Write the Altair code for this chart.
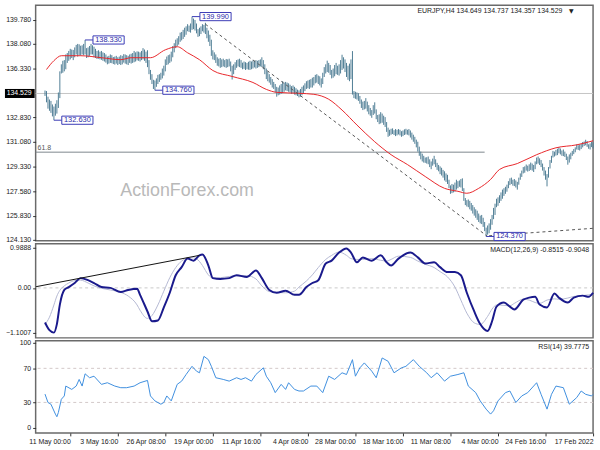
import altair as alt
import pandas as pd

FONT = "Liberation Sans"

# ---------------- price bars (index 0 = 17 Feb 2022 08:00, 4H bars) ----------------
HIGH = [
    131.05, 131.10, 130.98, 130.92, 131.15, 131.24, 131.12, 131.08, 130.96, 130.90,
    130.85, 130.92, 130.70, 130.58, 130.45, 130.32, 130.20, 130.05, 130.25, 130.40,
    130.55, 130.48, 130.62, 130.70, 130.60, 130.52, 130.40, 130.45, 130.10, 129.80,
    129.30, 128.80, 129.05, 129.30, 129.55, 129.80, 129.92, 130.05, 129.98, 129.70,
    129.45, 129.55, 129.62, 129.50, 129.40, 129.48, 129.35, 129.30, 129.05, 128.85,
    128.55, 128.25, 128.35, 128.45, 128.40, 128.55, 128.50, 128.30, 128.05, 127.90,
    127.80, 127.70, 127.50, 127.30, 127.15, 127.05, 126.70, 126.40, 125.90, 125.60,
    125.30, 125.15, 125.00, 125.40, 125.70, 125.90, 125.85, 126.00, 126.20, 126.30,
    126.45, 126.60, 126.75, 126.90, 127.00, 126.95, 127.10, 127.80, 128.50, 128.45,
    128.35, 128.30, 128.40, 128.20, 128.05, 128.10, 128.00, 128.40, 128.75, 128.85,
    129.00, 129.10, 129.25, 129.35, 129.45, 129.60, 129.85, 130.10, 129.90, 129.70,
    129.85, 130.05, 130.00, 129.98, 130.10, 130.25, 130.40, 130.75, 131.10, 131.25,
    131.45, 131.60, 131.75, 131.90, 132.00, 131.95, 132.02, 131.98, 131.90, 131.85,
    131.95, 132.00, 131.95, 132.00, 131.92, 132.05, 132.02, 131.95, 132.10, 132.50,
    132.85, 132.95, 133.10, 133.20, 133.05, 133.00, 133.40, 133.90, 133.70, 133.35,
    133.50, 133.70, 133.95, 134.20, 134.00, 133.95, 134.10, 134.35, 134.55, 134.60,
    134.65, 134.70, 137.54, 136.95, 136.65, 136.50, 136.70, 136.95, 137.10, 137.28,
    136.90, 136.60, 136.50, 136.70, 136.55, 136.30, 136.20, 136.55, 136.70, 136.86,
    136.60, 136.40, 136.00, 135.60, 135.75, 135.80, 135.90, 135.85, 135.70, 135.65,
    135.55, 135.50, 135.45, 135.40, 135.25, 135.10, 135.00, 134.85, 134.75, 134.80,
    134.90, 135.00, 135.10, 135.05, 135.15, 135.25, 135.30, 135.35, 135.30, 135.40,
    135.20, 135.10, 134.95, 135.00, 135.20, 135.35, 135.55, 135.70, 135.90, 136.10,
    136.30, 136.60, 136.90, 137.10, 136.95, 136.90, 136.85, 136.90, 136.85, 136.88,
    136.80, 136.85, 136.78, 136.70, 136.75, 136.80, 136.72, 136.90, 137.00, 136.95,
    136.90, 136.75, 136.60, 136.50, 136.80, 137.00, 136.95, 136.98, 136.90, 137.00,
    136.95, 137.05, 137.00, 137.10, 137.30, 137.45, 137.60, 138.35, 138.70, 139.00,
    139.20, 139.55, 139.40, 139.45, 139.30, 139.20, 139.10, 139.50, 139.75, 139.85,
    139.99, 139.50, 139.35, 139.45, 139.30, 139.20, 139.05, 138.90, 138.85, 138.60,
    138.45, 138.35, 138.10, 137.90, 137.50, 137.30, 137.25, 137.15, 136.95, 136.50,
    136.30, 136.00, 135.90, 135.85, 135.60, 135.45, 135.50, 135.90, 136.20, 136.90,
    137.60, 137.50, 137.65, 137.75, 137.55, 137.45, 137.50, 137.52, 137.45, 137.55,
    137.40, 137.35, 137.30, 137.20, 137.25, 137.30, 137.32, 137.20, 137.25, 137.15,
    137.10, 137.20, 137.15, 137.12, 137.25, 137.30, 137.20, 137.15, 137.30, 137.40,
    137.45, 137.55, 137.50, 137.60, 137.55, 137.70, 137.85, 137.95, 138.05, 137.90,
    137.80, 137.75, 138.33, 138.05, 137.95, 137.92, 138.02, 138.05, 137.98, 137.80,
    137.62, 137.65, 137.70, 137.55, 137.40, 137.30, 136.90, 136.85, 136.60, 136.10,
    134.60, 134.05, 133.80, 133.60, 133.75, 134.00, 134.10, 134.30, 134.70, 134.737,
]
LOW = [
    130.62, 130.72, 130.55, 130.60, 130.74, 130.85, 130.80, 130.70, 130.58, 130.48,
    130.52, 130.55, 130.35, 130.22, 130.10, 129.85, 129.62, 129.47, 129.80, 130.02,
    130.08, 130.10, 130.20, 130.28, 130.15, 130.12, 130.05, 129.98, 129.60, 129.20,
    128.55, 127.93, 128.40, 128.70, 129.05, 129.30, 129.45, 129.55, 129.50, 129.15,
    128.95, 129.05, 129.10, 129.02, 128.98, 129.05, 128.90, 128.85, 128.60, 128.40,
    128.05, 127.70, 127.85, 127.95, 127.98, 128.10, 128.02, 127.80, 127.55, 127.40,
    127.25, 127.05, 126.90, 126.75, 126.55, 126.45, 125.90, 125.60, 125.20, 124.85,
    124.60, 124.50, 124.37, 124.75, 125.05, 125.25, 125.30, 125.40, 125.55, 125.70,
    125.85, 126.00, 126.20, 126.30, 126.45, 126.50, 126.60, 126.90, 127.60, 127.85,
    127.90, 127.80, 127.70, 127.55, 127.50, 127.45, 127.40, 127.80, 128.10, 128.25,
    128.35, 128.55, 128.70, 128.80, 129.00, 129.10, 129.30, 129.50, 129.40, 129.15,
    129.30, 129.50, 129.55, 129.60, 129.62, 129.70, 129.85, 130.10, 130.40, 130.70,
    130.95, 131.10, 131.25, 131.40, 131.55, 131.60, 131.62, 131.58, 131.50, 131.45,
    131.55, 131.62, 131.55, 131.50, 131.58, 131.65, 131.60, 131.52, 131.45, 131.80,
    132.15, 132.30, 132.45, 132.40, 132.35, 132.50, 132.70, 133.10, 133.00, 132.80,
    132.95, 133.05, 133.25, 133.45, 133.40, 133.35, 133.50, 133.80, 134.00, 134.10,
    134.15, 134.20, 134.45, 135.55, 135.40, 135.50, 135.70, 136.05, 136.30, 136.20,
    135.95, 135.80, 135.85, 135.90, 135.75, 135.65, 135.60, 135.85, 136.00, 136.05,
    135.95, 135.70, 135.20, 134.95, 135.10, 135.20, 135.30, 135.25, 135.10, 134.95,
    134.95, 134.85, 134.90, 134.85, 134.70, 134.55, 134.40, 134.30, 134.25, 134.35,
    134.40, 134.45, 134.55, 134.50, 134.60, 134.65, 134.70, 134.75, 134.65, 134.55,
    134.50, 134.45, 134.40, 134.30, 134.60, 134.85, 134.95, 135.15, 135.30, 135.40,
    135.55, 135.90, 136.25, 136.40, 136.45, 136.40, 136.35, 136.30, 136.38, 136.30,
    136.25, 136.20, 136.22, 136.25, 136.20, 136.28, 136.25, 136.35, 136.40, 136.45,
    136.35, 136.20, 135.90, 135.52, 136.10, 136.45, 136.40, 136.35, 136.40, 136.45,
    136.40, 136.35, 136.45, 136.50, 136.70, 136.90, 136.95, 137.20, 137.90, 138.20,
    138.45, 138.75, 138.85, 138.95, 138.75, 138.60, 138.55, 138.80, 139.00, 139.10,
    139.05, 138.85, 138.90, 138.95, 138.70, 138.55, 138.40, 138.30, 138.20, 138.00,
    137.90, 137.75, 137.45, 137.10, 136.80, 136.70, 136.60, 136.55, 136.10, 135.80,
    135.60, 135.50, 135.35, 135.20, 135.00, 134.76, 134.85, 135.20, 135.50, 135.90,
    136.40, 136.70, 136.85, 136.95, 136.90, 136.80, 136.85, 136.88, 136.80, 136.75,
    136.70, 136.65, 136.70, 136.55, 136.60, 136.65, 136.72, 136.60, 136.55, 136.62,
    136.55, 136.65, 136.58, 136.62, 136.68, 136.70, 136.65, 136.60, 136.72, 136.80,
    136.85, 136.92, 136.95, 137.00, 136.98, 137.05, 137.10, 137.30, 137.30, 137.20,
    137.10, 137.05, 137.30, 137.25, 137.30, 137.22, 137.25, 137.15, 137.30, 137.10,
    136.90, 137.05, 136.95, 136.85, 136.70, 136.25, 136.10, 136.00, 135.95, 134.20,
    133.50, 133.10, 132.95, 132.63, 132.90, 133.15, 133.30, 133.45, 133.90, 134.357,
]

# moving average (red)
MA_IDX = [0, 11, 25, 38, 51, 63, 69, 77, 85, 91, 100, 113, 125, 136, 147, 159, 169, 178, 188,
          198, 213, 220, 229, 243, 256, 265, 273, 280, 288, 298, 303, 311, 318, 331, 345, 358, 363, 368]
MA_VAL = [131.17, 130.88, 130.67, 130.18, 129.55, 129.13, 128.42, 127.79, 127.44, 127.58, 127.79,
          128.63, 129.48, 130.18, 131.10, 132.29, 133.35, 134.12, 134.47, 134.54, 134.61, 134.82,
          135.31, 135.74, 136.16, 136.93, 137.42, 137.85, 137.63, 137.07, 137.07, 137.07, 136.93,
          137.07, 137.21, 137.21, 136.86, 136.23]

# MACD main / signal
MACD_IDX = [0, 3, 7, 13, 17, 23, 26, 31, 36, 39, 43, 47, 53, 56, 60, 65, 68, 71, 76, 80, 85, 89,
            93, 98, 103, 107, 113, 118, 123, 131, 136, 139, 143, 149, 155, 159, 163, 166, 171, 176,
            180, 185, 189, 193, 198, 201, 207, 213, 218, 223, 227, 233, 240, 245, 251, 256, 259,
            263, 265, 269, 273, 277, 281, 285, 289, 293, 297, 300, 305, 307, 313, 318, 325, 331,
            336, 340, 345, 349, 353, 356, 359, 361, 363, 366, 369]
MACD_VAL = [-0.12, -0.22, -0.19, -0.24, -0.36, -0.24, -0.14, -0.48, -0.41, -0.22, -0.24, -0.29,
            -0.53, -0.46, -0.36, -0.46, -0.82, -1.06, -0.89, -0.58, -0.12, 0.31, 0.39, 0.39, 0.51,
            0.63, 0.60, 0.75, 0.87, 0.72, 0.55, 0.63, 0.80, 0.67, 0.75, 0.63, 0.87, 0.97, 0.87,
            0.67, 0.60, 0.19, 0.12, 0.02, -0.17, -0.17, -0.07, -0.12, -0.05, 0.24, 0.43, 0.27,
            0.31, 0.24, 0.22, 0.24, 0.55, 0.82, 0.80, 0.67, 0.72, 0.51, 0.31, -0.12, -0.48, -0.80,
            -0.82, -0.58, -0.17, -0.02, -0.05, -0.10, 0.00, 0.02, 0.12, 0.19, 0.24, 0.12, 0.02,
            -0.05, -0.41, -0.89, -1.10, -1.04, -0.85]
SIG_VAL = [-0.15, -0.17, -0.19, -0.21, -0.25, -0.28, -0.27, -0.30, -0.38, -0.36, -0.30, -0.28,
           -0.38, -0.44, -0.43, -0.42, -0.52, -0.70, -0.90, -0.86, -0.62, -0.30, 0.02, 0.27, 0.40,
           0.50, 0.58, 0.66, 0.75, 0.78, 0.70, 0.66, 0.68, 0.72, 0.70, 0.70, 0.72, 0.80, 0.88,
           0.80, 0.70, 0.50, 0.32, 0.17, 0.02, -0.08, -0.12, -0.11, -0.09, 0.05, 0.22, 0.30,
           0.30, 0.28, 0.25, 0.24, 0.32, 0.55, 0.65, 0.74, 0.73, 0.66, 0.50, 0.25, -0.08, -0.42,
           -0.68, -0.75, -0.55, -0.42, -0.20, -0.11, -0.05, -0.01, 0.05, 0.12, 0.19, 0.18, 0.12,
           0.05, -0.06, -0.20, -0.42, -0.72, -0.90]

# RSI(14)
RSI_IDX = [0, 1, 5, 8, 11, 16, 20, 25, 28, 31, 35, 38, 44, 48, 52, 56, 59, 64, 67, 69, 72, 76, 79,
           84, 87, 91, 96, 100, 105, 109, 112, 117, 121, 126, 129, 134, 138, 142, 146, 149, 154,
           157, 160, 162, 166, 169, 174, 178, 182, 186, 190, 195, 198, 201, 205, 207, 210, 214,
           217, 220, 222, 227, 230, 234, 237, 240, 245, 249, 254, 257, 259, 262, 265, 267, 270,
           274, 277, 280, 284, 287, 289, 291, 295, 298, 300, 305, 309, 314, 318, 322, 327, 331,
           336, 339, 342, 344, 346, 348, 351, 355, 356, 358, 360, 361, 362, 365, 367, 369]
RSI_VAL = [39.5, 37.6, 39.5, 43.4, 35.7, 27.9, 47.3, 49.2, 39.5, 22.1, 39.5, 53.1, 41.5, 37.6,
           29.9, 43.4, 41.5, 31.8, 20.2, 16.3, 22.1, 31.8, 41.5, 49.2, 64.8, 62.8, 60.8, 55.0,
           64.8, 59.0, 64.8, 72.4, 80.2, 72.4, 70.6, 64.8, 78.3, 82.2, 59.0, 66.7, 76.4, 70.6,
           60.8, 80.2, 62.8, 64.8, 57.0, 60.8, 41.5, 49.2, 49.2, 43.4, 43.4, 45.3, 53.1, 45.3,
           51.2, 41.5, 53.1, 60.8, 70.6, 62.8, 55.0, 59.0, 57.0, 59.0, 55.0, 57.0, 59.0, 72.4,
           80.2, 84.1, 64.8, 66.7, 72.4, 62.8, 55.0, 51.2, 31.8, 37.6, 29.9, 27.9, 31.8, 37.6,
           55.8, 53.1, 49.2, 47.3, 47.3, 49.2, 53.1, 51.2, 60.8, 59.0, 63.6, 49.2, 57.0, 49.2,
           45.3, 49.2, 37.6, 33.7, 18.2, 13.2, 16.3, 27.9, 29.9, 39.78]

# axes / annotations
PRICE_TICKS = [124.13, 125.83, 127.58, 129.33, 131.08, 132.83, 136.33, 138.08, 139.78]
TIME_TICKS = [0, 32, 64, 96, 128, 160, 192, 224, 256, 288, 320, 352]
TIME_LABELS = ["17 Feb 2022", "24 Feb 16:00", "4 Mar 00:00", "11 Mar 08:00", "18 Mar 16:00",
               "28 Mar 00:00", "4 Apr 08:00", "11 Apr 16:00", "19 Apr 00:00", "26 Apr 08:00",
               "3 May 16:00", "11 May 00:00"]
LAST_PRICE = 134.529
FIB_LEVEL = 130.36
FIB_START = 73
LABEL_BAR = [363, 342, 295, 270, 72]
LABEL_PRICE = [132.63, 138.33, 134.76, 139.99, 124.37]
LABEL_TEXT = ["132.630", "138.330", "134.760", "139.990", "124.370"]
TREND_SEG = [0, 0, 1, 1]
TREND_IDX = [261, 71, 70, 0]
TREND_PRICE = [139.45, 124.37, 124.42, 124.95]
MACD_TREND_IDX = [375, 265]
MACD_TREND_VAL = [0.03, 0.80]

XMAX = 375.3
W = 563

# ---------------- data frames ----------------
bars = pd.DataFrame({"i": list(range(len(HIGH))), "high": HIGH, "low": LOW})
ma = pd.DataFrame({"i": MA_IDX, "v": MA_VAL})
macd = pd.DataFrame({"i": MACD_IDX, "m": MACD_VAL, "s": SIG_VAL})
rsi = pd.DataFrame({"i": RSI_IDX, "v": RSI_VAL})
trend = pd.DataFrame({"seg": TREND_SEG, "i": TREND_IDX, "p": TREND_PRICE})
lab = pd.DataFrame({"bar": LABEL_BAR, "p": LABEL_PRICE, "t": LABEL_TEXT})
lab["b0"] = lab["bar"] - 5.3
lab["b1"] = lab["bar"] - 26.3
lab["bc"] = lab["bar"] - 15.8
lab["p0"] = lab["p"] - 0.29
lab["p1"] = lab["p"] + 0.29

XS = alt.Scale(domain=[0, XMAX], reverse=True, nice=False, zero=False)
AXC = dict(labelFont=FONT, labelFontSize=7, labelColor="#222", tickColor="#333", tickSize=3,
           labelPadding=2, domain=False, grid=False, title=None, labelFlush=False)


def X(f, axis=None):
    return alt.X(f, type="quantitative", scale=XS, axis=axis)


# ---------------- main price panel ----------------
YS_M = alt.Scale(domain=[124.06, 140.80], nice=False, zero=False)
AX_M = alt.Axis(values=PRICE_TICKS, format=".3f", minExtent=30, maxExtent=30, **AXC)


def YM(f):
    return alt.Y(f, type="quantitative", scale=YS_M, axis=AX_M)


base_bars = alt.Chart(bars)
wm = alt.Chart(pd.DataFrame({"t": ["ActionForex.com"]})).mark_text(
    font=FONT, fontSize=18, color="#b9b9b9", align="center", baseline="middle"
).encode(x=alt.value(153), y=alt.value(188), text="t:N")
cur = alt.Chart(pd.DataFrame({"p": [LAST_PRICE]})).mark_rule(color="#c4c4c4", strokeWidth=1).encode(y=YM("p"))
fib = alt.Chart(pd.DataFrame({"a": [FIB_START], "b": [XMAX], "p": [FIB_LEVEL]})).mark_rule(
    color="#7d878d", strokeWidth=1).encode(x=X("a"), x2="b", y=YM("p"))
fibt = alt.Chart(pd.DataFrame({"a": [XMAX], "p": [FIB_LEVEL], "t": ["61.8"]})).mark_text(
    font=FONT, fontSize=7, color="#555", align="left", baseline="bottom", dx=2, dy=-1
).encode(x=X("a"), y=YM("p"), text="t:N")
pbars = base_bars.mark_rule(color="#4f7d95", strokeWidth=1).encode(x=X("i"), y=YM("low"), y2="high")
mal = alt.Chart(ma).mark_line(color="#e8262a", strokeWidth=1, interpolate="monotone").encode(
    x=X("i"), y=YM("v"))
trl = alt.Chart(trend).mark_line(color="#555", strokeWidth=1, strokeDash=[3, 3]).encode(
    x=X("i"), y=YM("p"), detail="seg:N")
conn = alt.Chart(lab).mark_rule(color="#3b3bb5", strokeWidth=1).encode(x=X("bar"), x2="b0", y=YM("p"))
box = alt.Chart(lab).mark_rect(fill="white", stroke="#3b3bb5", strokeWidth=1).encode(
    x=X("b0"), x2="b1", y=YM("p0"), y2="p1")
boxt = alt.Chart(lab).mark_text(font=FONT, fontSize=7.5, color="#2a2aa8", align="center",
                                baseline="middle").encode(x=X("bc"), y=YM("p"), text="t:N")
hdr = alt.Chart(pd.DataFrame({"t": ["EURJPY,H4  134.649 134.737 134.357 134.529"]})).mark_text(
    font=FONT, fontSize=7, color="#222", align="right", baseline="middle"
).encode(x=alt.value(532), y=alt.value(6), text="t:N")
tri = alt.Chart(pd.DataFrame({"t": ["▼"]})).mark_text(
    font="DejaVu Sans", fontSize=6, color="#222", align="center", baseline="middle"
).encode(x=alt.value(541), y=alt.value(6), text="t:N")
lpb = alt.Chart(pd.DataFrame({"lo": [LAST_PRICE - 0.32], "hi": [LAST_PRICE + 0.32]})).mark_rect(
    color="black").encode(x=alt.value(-31), x2=alt.value(-1), y=YM("lo"), y2="hi")
lpt = alt.Chart(pd.DataFrame({"p": [LAST_PRICE], "t": ["134.529"]})).mark_text(
    font=FONT, fontSize=7, color="white", align="right", baseline="middle"
).encode(x=alt.value(-4), y=YM("p"), text="t:N")

main = alt.layer(wm, cur, fib, fibt, pbars, mal, trl, conn, box, boxt, hdr, tri, lpb, lpt).properties(
    width=W, height=238)

# ---------------- MACD panel ----------------
YS_D = alt.Scale(domain=[-1.229, 1.084], nice=False, zero=False)
AX_D = alt.Axis(values=[0.9888, 0, -1.1007],
                labelExpr="datum.value == 0 ? '0.00' : format(datum.value, '.4f')",
                minExtent=30, maxExtent=30, **AXC)


def YD(f):
    return alt.Y(f, type="quantitative", scale=YS_D, axis=AX_D)


zero = alt.Chart(pd.DataFrame({"z": [0]})).mark_rule(color="#c8c8c8", strokeDash=[3, 3]).encode(y=YD("z"))
sig = alt.Chart(macd).mark_line(color="#b4b8d2", strokeWidth=1, interpolate="monotone").encode(
    x=X("i"), y=YD("s"))
mline = alt.Chart(macd).mark_line(color="#1a1a8c", strokeWidth=2, interpolate="monotone").encode(
    x=X("i"), y=YD("m"))
mtr = alt.Chart(pd.DataFrame({"i": MACD_TREND_IDX, "v": MACD_TREND_VAL})).mark_line(
    color="#111", strokeWidth=1).encode(x=X("i"), y=YD("v"))
mtxt = alt.Chart(pd.DataFrame({"t": ["MACD(12,26,9) -0.8515 -0.9048"]})).mark_text(
    font=FONT, fontSize=7, color="#222", align="right", baseline="middle"
).encode(x=alt.value(559), y=alt.value(6), text="t:N")
macd_panel = alt.layer(zero, sig, mline, mtr, mtxt).properties(width=W, height=95)

# ---------------- RSI panel ----------------
YS_R = alt.Scale(domain=[-5.8, 102.3], nice=False, zero=False)
AX_R = alt.Axis(values=[0, 30, 70, 100], format="d", minExtent=30, maxExtent=30, **AXC)
lab_expr = "[" + ",".join("'%s'" % s for s in TIME_LABELS) + "][indexof([" + \
    ",".join(str(v) for v in TIME_TICKS) + "], datum.value)]"
AX_X = alt.Axis(values=TIME_TICKS, labelExpr=lab_expr, labelAlign="right", labelBaseline="top",
                labelOverlap=False, labelFont=FONT, labelFontSize=7, labelColor="#222",
                tickColor="#333", tickSize=3, labelPadding=2, domain=False, grid=False,
                title=None, labelFlush=False)


def YR(f):
    return alt.Y(f, type="quantitative", scale=YS_R, axis=AX_R)


lev = alt.Chart(pd.DataFrame({"l": [30, 70]})).mark_rule(color="#d2c8c8", strokeDash=[3, 3]).encode(y=YR("l"))
rline = alt.Chart(rsi).mark_line(color="#3f8fdf", strokeWidth=1).encode(x=X("i", AX_X), y=YR("v"))
rtxt = alt.Chart(pd.DataFrame({"t": ["RSI(14) 39.7775"]})).mark_text(
    font=FONT, fontSize=7, color="#222", align="right", baseline="middle"
).encode(x=alt.value(559), y=alt.value(6), text="t:N")
rsi_panel = alt.layer(lev, rline, rtxt).properties(width=W, height=93)

chart = alt.vconcat(main, macd_panel, rsi_panel, spacing=3, bounds="flush").properties(
    padding={"left": 4, "top": 2, "right": 2, "bottom": 2}, background="white"
).configure_view(stroke="#6a6a6a", strokeWidth=1.5)

chart.save("out.html", embed_options={"renderer": "svg", "actions": False})
